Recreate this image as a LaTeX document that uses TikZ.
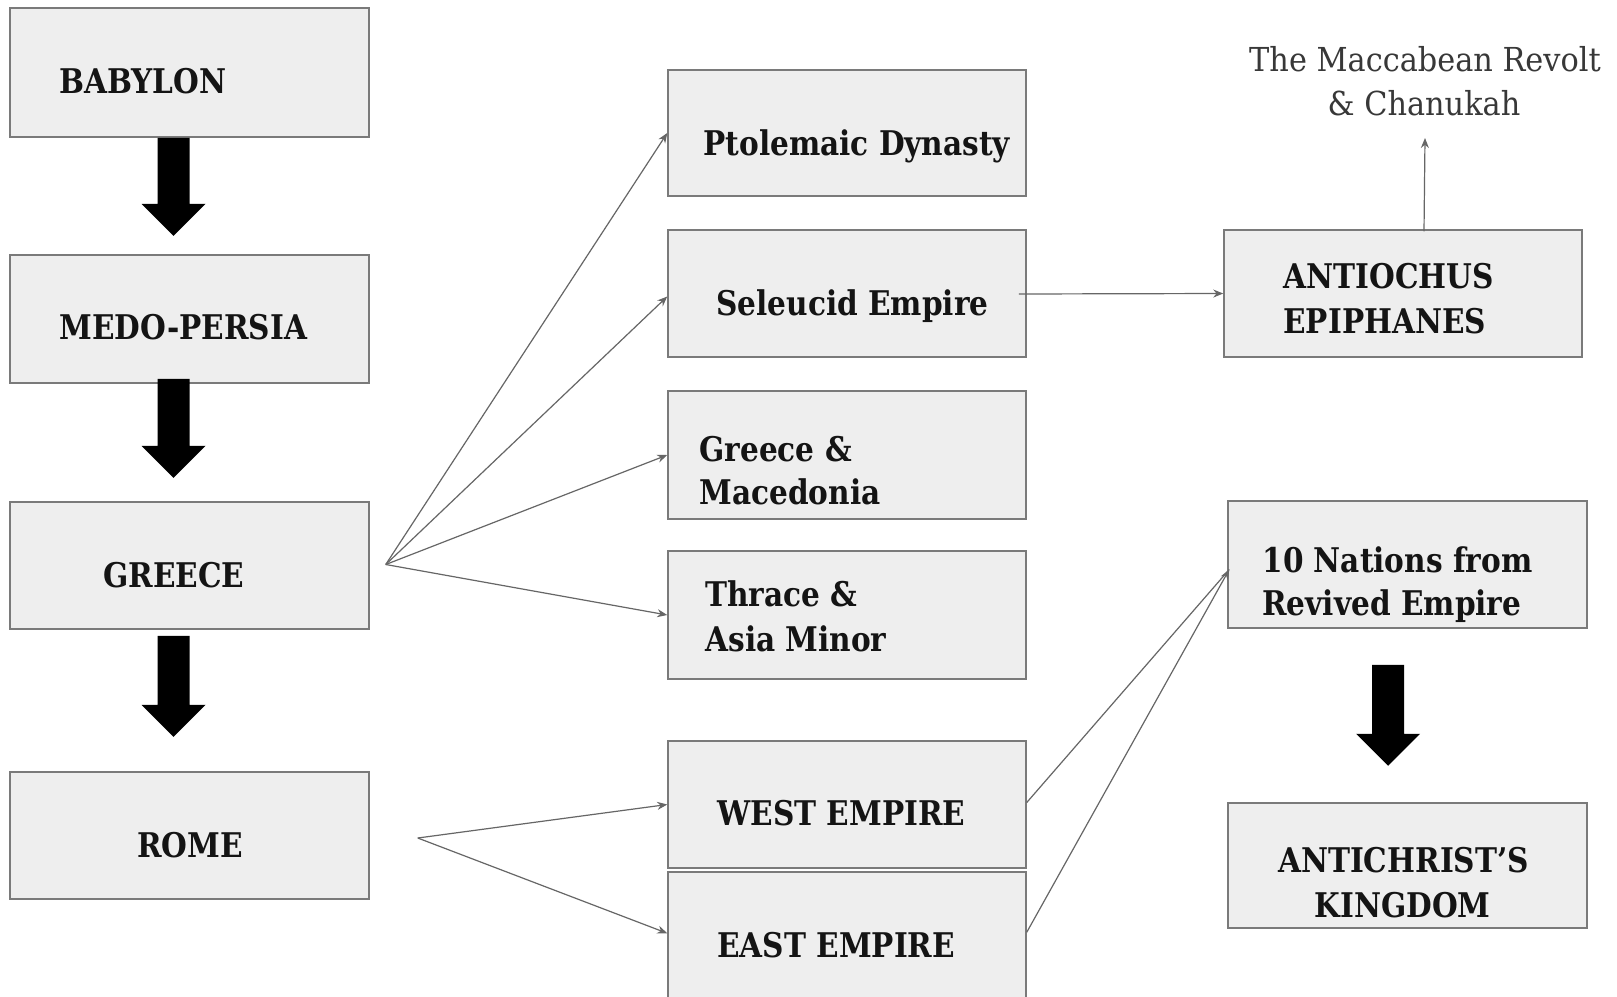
\documentclass[tikz,border=0pt]{standalone}
\usepackage{fontspec}
\setmainfont{DejaVu Serif}[FakeStretch=0.87]
\newfontfamily\macfont{DejaVu Serif}[FakeStretch=0.92]
\usetikzlibrary{calc,arrows.meta}
\definecolor{boxfill}{HTML}{EEEEEE}
\definecolor{boxline}{HTML}{7A7A7A}
\definecolor{connc}{HTML}{666666}
\newcommand\blk[4]{% node, dx, dy, length
  \fill[black] ($(#1.south)+(#2-16,#3)$) -- ++(32,0) -- ++(0,#4-32) -- ++(16,0)
    -- ++(-32,32) -- ++(-32,-32) -- ++(16,0) -- cycle;}
\begin{document}
\begin{tikzpicture}[x=0.5pt,y=-0.5pt,
  box/.style 2 args={draw=boxline, fill=boxfill, line width=0.75pt, inner sep=0pt,
    minimum width=#1*0.5pt, minimum height=#2*0.5pt},
  lbl/.style={anchor=base west, inner sep=0pt, text=black!92,
    font=\bfseries\fontsize{17}{20}\selectfont},
  clbl/.style={lbl, anchor=base},
  plain/.style={anchor=base, inner sep=0pt, text=black!78,
    font=\macfont\fontsize{16.5}{20}\selectfont},
  conn/.style={draw=connc, line width=0.6pt, -{Stealth[length=5pt,width=4pt]}},
  line/.style={draw=connc, line width=0.6pt}]
\clip (0,0) rectangle (1617,996);
\useasboundingbox (0,0) rectangle (1617,996);
\fill[white] (0,0) rectangle (1617,996);
% left column
\node[box={359}{129}] (babylon) at (189.5,72.5) {};
\node[box={359}{128}] (medo) at (189.5,319) {};
\node[box={359}{127}] (greece) at (189.5,565.5) {};
\node[box={359}{127}] (rome) at (189.5,835.5) {};
% middle column
\node[box={358}{126}] (ptol) at (847,133) {};
\node[box={358}{127}] (sel) at (847,293.5) {};
\node[box={358}{128}] (gm) at (847,455) {};
\node[box={358}{128}] (thr) at (847,615) {};
\node[box={358}{127}] (west) at (847,804.5) {};
\node[box={358}{133}] (east) at (847,938.5) {};
% right column
\node[box={358}{127}] (anti) at (1403,293.5) {};
\node[box={359}{127}] (ten) at (1407.5,564.5) {};
\node[box={359}{125}] (ak) at (1407.5,865.5) {};
% labels
\node[lbl] (tbab) at (59,93) {BABYLON};
\node[lbl] (tmedo) at (59,339) {MEDO-PERSIA};
\node[lbl] (tgre) at (103,587) {GREECE};
\node[lbl] (trome) at (137,857) {ROME};
\node[lbl] (tptol) at (703,155) {Ptolemaic Dynasty};
\node[lbl] (tsel) at (716,315) {Seleucid Empire};
\node[lbl] (tgm1) at (699,461) {Greece \&};
\node[lbl] (tgm2) at (699,504) {Macedonia};
\node[lbl] (tthr1) at (705,606) {Thrace \&};
\node[lbl] (tthr2) at (705,651) {Asia Minor};
\node[lbl] (twest) at (717,825) {WEST EMPIRE};
\node[lbl] (teast) at (717,957) {EAST EMPIRE};
\node[lbl] (tanti1) at (1283,288) {ANTIOCHUS};
\node[lbl] (tanti2) at (1283,333) {EPIPHANES};
\node[lbl] (tten1) at (1262,572) {10 Nations from};
\node[lbl] (tten2) at (1262,615) {Revived Empire};
\node[clbl] (tak1) at (1403.5,872) {ANTICHRIST’S};
\node[clbl] (tak2) at (1402.5,917) {KINGDOM};
\node[plain] (mac1) at (1425,71) {The Maccabean Revolt};
\node[plain] (mac2) at (1424,115) {\& Chanukah};
% block arrows
\blk{babylon}{-16}{0}{98}
\blk{medo}{-16}{-5}{99}
\blk{greece}{-16}{6}{101}
\blk{ten}{-19.5}{36}{101}
% connectors
\coordinate (gfan) at ($(greece.east)+(16,-1)$);
\draw[conn] (gfan) -- (ptol.west);
\draw[conn] (gfan) -- ($(sel.west)+(0,3)$);
\draw[conn] (gfan) -- (gm.west);
\draw[conn] (gfan) -- (thr.west);
\coordinate (rfan) at ($(rome.east)+(48,2.5)$);
\draw[conn] (rfan) -- (west.west);
\draw[conn] (rfan) -- ($(east.north west)+(0,62)$);
\draw[line] ($(west.east)+(0,-2)$) -- ($(ten.west)+(2,5)$);
\draw[conn] ($(east.north east)+(0,61)$) -- ($(ten.west)+(2,5)$);
\draw[conn] ($(sel.east)+(-8,0.5)$) -- (anti.west);
\draw[conn] ($(anti.north)+(21,2)$) -- ($(mac2.base)+(1,23)$);
\end{tikzpicture}
\end{document}
